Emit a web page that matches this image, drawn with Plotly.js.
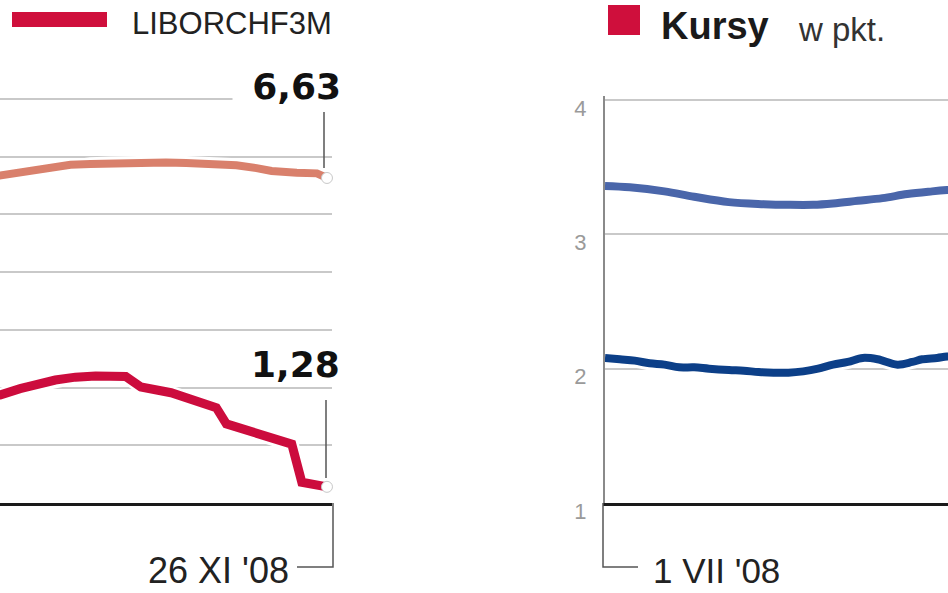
<!DOCTYPE html>
<html>
<head>
<meta charset="utf-8">
<script src="https://cdn.plot.ly/plotly-3.0.1.min.js"></script>
<style>html,body{margin:0;padding:0;background:#fff;}#chart{width:948px;height:593px;}</style>
</head>
<body>
<div id="chart"></div>
<script>
// ---- Left panel: interest rates (%), visible part up to 26 XI '08 ----
const wiborDates = ['2008-09-15','2008-09-22','2008-09-26','2008-10-01','2008-10-06','2008-10-10','2008-10-14','2008-10-20','2008-10-25','2008-10-29','2008-11-03','2008-11-08','2008-11-12','2008-11-15','2008-11-20','2008-11-24','2008-11-26'];
const wiborValues = [6.58,6.67,6.74,6.80,6.86,6.87,6.88,6.92,6.90,6.89,6.88,6.85,6.80,6.75,6.72,6.71,6.63];

const liborDates = ['2008-09-15','2008-09-22','2008-09-26','2008-09-30','2008-10-03','2008-10-07','2008-10-11','2008-10-17','2008-10-20','2008-10-26','2008-11-04','2008-11-06','2008-11-16','2008-11-19','2008-11-21','2008-11-24','2008-11-26'];
const liborValues = [2.80,2.87,2.98,3.07,3.13,3.18,3.20,3.19,3.01,2.91,2.65,2.37,2.09,2.02,1.36,1.31,1.28];

// ---- Right panel: exchange rates (PLN), visible part from 1 VII '08 ----
const eurDates = ['2008-07-01','2008-07-06','2008-07-13','2008-07-19','2008-07-26','2008-08-02','2008-08-07','2008-08-12','2008-08-16','2008-08-21','2008-08-26','2008-08-31','2008-09-05','2008-09-08','2008-09-12'];
const eurValues = [3.36,3.35,3.32,3.28,3.24,3.225,3.22,3.22,3.23,3.25,3.27,3.30,3.32,3.33,3.34];

const chfDates = ['2008-07-01','2008-07-04','2008-07-07','2008-07-10','2008-07-13','2008-07-16','2008-07-19','2008-07-22','2008-07-26','2008-07-29','2008-08-01','2008-08-04','2008-08-07','2008-08-10','2008-08-13','2008-08-16','2008-08-19','2008-08-22','2008-08-25','2008-08-29','2008-09-01','2008-09-03','2008-09-06','2008-09-08','2008-09-12'];
const chfValues = [2.08,2.07,2.06,2.04,2.03,2.01,2.01,2.00,1.99,1.985,1.975,1.97,1.97,1.98,2.00,2.03,2.05,2.08,2.07,2.03,2.05,2.07,2.08,2.09,2.10];

const leftTickVals = [1,2,3,4,5,6,7,8];
const rightTickVals = [1,2,3,4];
const rightTickText = ['1','2','3','4'];

const labelWibor = '6,63';
const labelLibor = '1,28';
const labelEndDate = "26 XI '08";
const labelStartDate = "1 VII '08";

const W = 948, H = 593;
const px = x => x / W;
const py = y => 1 - y / H;

function halo(x, y, xa, ya, shape) {
  return {x, y, xaxis: xa, yaxis: ya, mode: 'lines', line: {color: '#ffffff', width: 14, shape: shape}, hoverinfo: 'skip', showlegend: false};
}
function line(x, y, xa, ya, color, shape, w) {
  return {x, y, xaxis: xa, yaxis: ya, mode: 'lines', line: {color: color, width: w, shape: shape}, hoverinfo: 'skip', showlegend: false};
}
function endDot(x, y, xa, ya) {
  return {x: [x[x.length-1]], y: [y[y.length-1]], xaxis: xa, yaxis: ya, mode: 'markers', cliponaxis: false,
    marker: {color: '#ffffff', size: 11, line: {color: '#c8c8c8', width: 1}}, hoverinfo: 'skip', showlegend: false};
}

const traces = [
  halo(wiborDates, wiborValues, 'x', 'y', 'linear'),
  line(wiborDates, wiborValues, 'x', 'y', '#d9806c', 'linear', 8),
  halo(liborDates, liborValues, 'x', 'y', 'linear'),
  line(liborDates, liborValues, 'x', 'y', '#cc0c3d', 'linear', 9),
  endDot(wiborDates, wiborValues, 'x', 'y'),
  endDot(liborDates, liborValues, 'x', 'y'),
  halo(eurDates, eurValues, 'x2', 'y2', 'spline'),
  line(eurDates, eurValues, 'x2', 'y2', '#4a66aa', 'spline', 8),
  halo(chfDates, chfValues, 'x2', 'y2', 'spline'),
  line(chfDates, chfValues, 'x2', 'y2', '#0c3f88', 'spline', 8)
];

const gridColor = '#c9c9c9';
const yDomain = [90 / H, 497 / H];

const layout = {
  width: W, height: H,
  margin: {l: 0, r: 0, t: 0, b: 0},
  paper_bgcolor: '#ffffff', plot_bgcolor: 'rgba(0,0,0,0)',
  showlegend: false, hovermode: false,
  xaxis: {domain: [0, 332 / W], type: 'date', range: ['2008-09-22', '2008-11-27'],
    showticklabels: false, showgrid: false, zeroline: false, ticks: '',
    showline: true, linecolor: '#1a1a1a', linewidth: 3, anchor: 'y'},
  yaxis: {domain: yDomain, range: [1, 8.05], tickvals: leftTickVals, showticklabels: false,
    showgrid: true, gridcolor: gridColor, gridwidth: 2, zeroline: false, showline: false, anchor: 'x'},
  xaxis2: {domain: [605 / W, 1], type: 'date', range: ['2008-07-01', '2008-09-08 05:00'],
    showticklabels: false, showgrid: false, zeroline: false, ticks: '',
    showline: true, linecolor: '#1a1a1a', linewidth: 3, anchor: 'y2'},
  yaxis2: {domain: yDomain, range: [1, 4.03], tickvals: rightTickVals, ticktext: rightTickText,
    showgrid: true, gridcolor: gridColor, gridwidth: 2, zeroline: false,
    showline: true, linecolor: '#8a8a8a', linewidth: 2, ticks: '',
    ticklabelstandoff: 12, ticklabelshift: 8,
    tickfont: {family: 'Liberation Sans', size: 22, color: '#9a9a9a'}, anchor: 'x2'},
  shapes: [
    {type: 'rect', xref: 'paper', yref: 'paper', x0: px(12), x1: px(107), y0: py(27), y1: py(12), fillcolor: '#cf0f3c', line: {width: 0}},
    {type: 'rect', xref: 'paper', yref: 'paper', x0: px(608), x1: px(640), y0: py(35), y1: py(5), fillcolor: '#cf0f3c', line: {width: 0}},
    {type: 'line', xref: 'paper', yref: 'paper', x0: px(324), x1: px(324), y0: py(112), y1: py(168), line: {color: '#555555', width: 1.5}},
    {type: 'line', xref: 'paper', yref: 'paper', x0: px(326), x1: px(326), y0: py(400), y1: py(478), line: {color: '#555555', width: 1.5}},
    {type: 'path', xref: 'paper', yref: 'paper',
      path: 'M ' + px(333) + ' ' + py(503) + ' L ' + px(333) + ' ' + py(567) + ' L ' + px(297) + ' ' + py(567),
      line: {color: '#555555', width: 1.5}},
    {type: 'path', xref: 'paper', yref: 'paper',
      path: 'M ' + px(603) + ' ' + py(503) + ' L ' + px(603) + ' ' + py(567) + ' L ' + px(638) + ' ' + py(567),
      line: {color: '#555555', width: 1.5}}
  ],
  annotations: [
    {xref: 'paper', yref: 'paper', x: px(130), y: py(24), xanchor: 'left', yanchor: 'middle', showarrow: false,
      text: 'LIBORCHF3M', font: {family: 'Liberation Sans', size: 31, color: '#222222'}},
    {xref: 'paper', yref: 'paper', x: px(659), y: py(26), xanchor: 'left', yanchor: 'middle', showarrow: false,
      text: '<b>Kursy</b>', font: {family: 'Liberation Sans', size: 38, color: '#1a1a1a'}},
    {xref: 'paper', yref: 'paper', x: px(796), y: py(29), xanchor: 'left', yanchor: 'middle', showarrow: false,
      text: 'w pkt.', font: {family: 'Liberation Sans', size: 33, color: '#333333'}},
    {xref: 'paper', yref: 'paper', x: px(342), y: py(86), xanchor: 'right', yanchor: 'middle', showarrow: false,
      width: 108, align: 'right', bgcolor: '#ffffff', borderpad: 0,
      text: '<b>' + labelWibor + '</b>', font: {family: 'DejaVu Sans', size: 36, color: '#111111'}},
    {xref: 'paper', yref: 'paper', x: px(342), y: py(364), xanchor: 'right', yanchor: 'middle', showarrow: false,
      text: '<b>' + labelLibor + '</b>', font: {family: 'DejaVu Sans', size: 36, color: '#111111'}},
    {xref: 'paper', yref: 'paper', x: px(291), y: py(570), xanchor: 'right', yanchor: 'middle', showarrow: false,
      text: labelEndDate, font: {family: 'Liberation Sans', size: 36, color: '#222222'}},
    {xref: 'paper', yref: 'paper', x: px(651), y: py(570), xanchor: 'left', yanchor: 'middle', showarrow: false,
      text: labelStartDate, font: {family: 'Liberation Sans', size: 35, color: '#222222'}}
  ]
};

Plotly.newPlot('chart', traces, layout, {staticPlot: true, displayModeBar: false});
</script>
</body>
</html>
